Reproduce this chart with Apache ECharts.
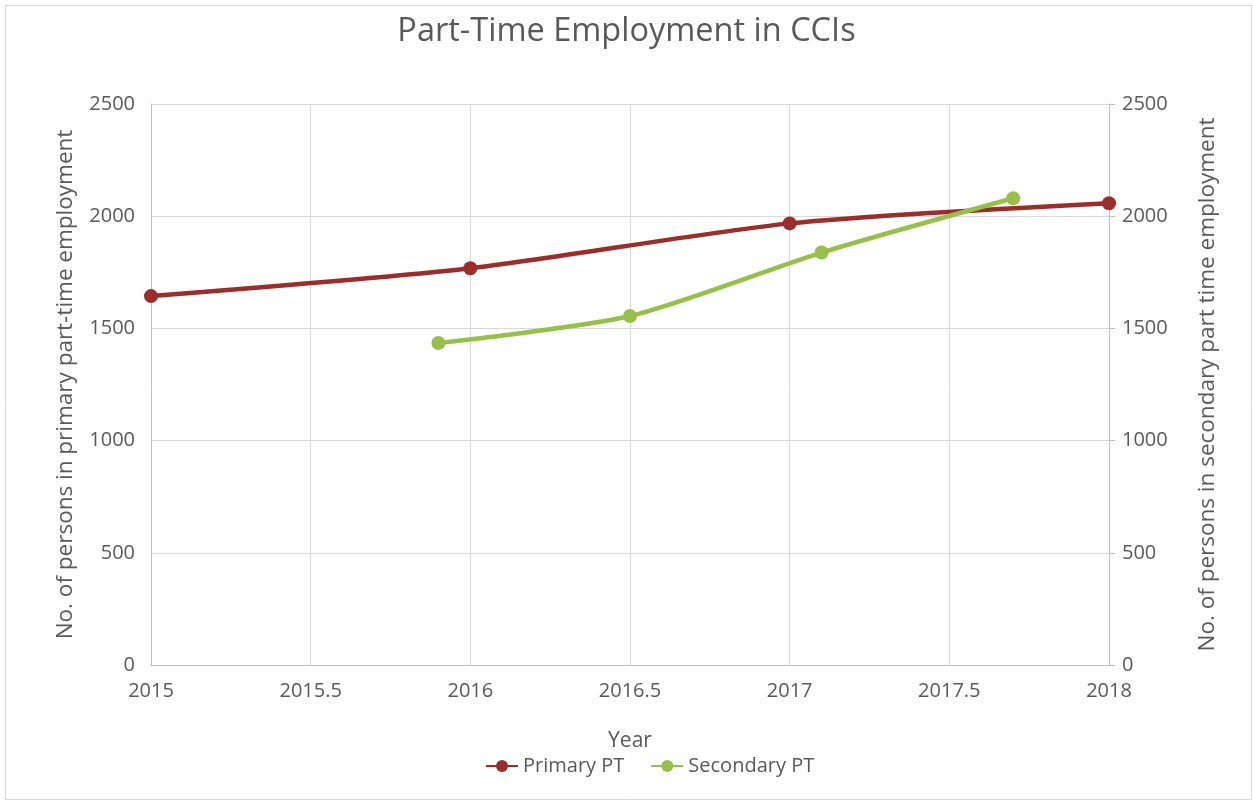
<!DOCTYPE html>
<html>
<head>
<meta charset="utf-8">
<title>Part-Time Employment in CCIs</title>
<script src="https://cdn.jsdelivr.net/npm/echarts@6/dist/echarts.min.js"></script>
<style>
  html, body { margin: 0; padding: 0; background: #ffffff; }
  #chart { width: 1253px; height: 801px; }
</style>
</head>
<body>
<div id="chart"></div>
<script>
// Primary part-time employment, by year
const primaryYears = [2015, 2016, 2017, 2018];
const primaryValues = [1644, 1768, 1968, 2058];

// Secondary part-time employment, plotted on the secondary axis
const secondaryYears = [2015.9, 2016.5, 2017.1, 2017.7];
const secondaryValues = [1435, 1555, 1838, 2080];

const yTicks = [0, 500, 1000, 1500, 2000, 2500];

const textColor = '#595959';
const gridColor = '#d9d9d9';
const font = '"Open Sans", sans-serif';

const chart = echarts.init(document.getElementById('chart'), null, { renderer: 'canvas' });

const plain = v => String(v);

const yAxisBase = {
  type: 'value',
  min: yTicks[0],
  max: yTicks[yTicks.length - 1],
  interval: yTicks[1] - yTicks[0],
  nameLocation: 'middle',
  nameRotate: 90,
  nameTextStyle: { color: textColor, fontSize: 22.5, fontFamily: font },
  axisLabel: { color: textColor, fontSize: 20, fontFamily: font, formatter: plain },
  axisLine: { show: true, lineStyle: { color: '#bfbfbf', width: 1 } }
};

chart.setOption({
  backgroundColor: '#ffffff',
  animation: false,
  title: {
    text: 'Part-Time Employment in CCIs',
    left: 'center',
    top: 10,
    textStyle: { color: textColor, fontSize: 32.5, fontWeight: 'normal', fontFamily: font }
  },
  legend: {
    bottom: 20,
    left: 480,
    itemWidth: 32,
    itemHeight: 15,
    itemGap: 26,
    textStyle: { color: textColor, fontSize: 20, fontFamily: font },
    data: ['Primary PT', 'Secondary PT']
  },
  grid: { left: 151, right: 144, top: 104, bottom: 136, containLabel: false },
  xAxis: {
    type: 'value',
    min: 2015,
    max: 2018,
    interval: 0.5,
    name: 'Year',
    nameLocation: 'middle',
    nameGap: 66,
    nameTextStyle: { color: textColor, fontSize: 21, fontFamily: font },
    axisLabel: { color: textColor, fontSize: 20, fontFamily: font, margin: 16, formatter: plain },
    axisLine: { show: true, onZero: false, lineStyle: { color: '#bfbfbf' } },
    axisTick: { show: false },
    splitLine: { show: true, lineStyle: { color: gridColor, width: 1 } }
  },
  yAxis: [
    Object.assign({}, yAxisBase, {
      position: 'left',
      name: 'No. of persons in primary part-time employment',
      nameGap: 74,
      axisTick: { show: false },
      axisLabel: Object.assign({}, yAxisBase.axisLabel, { margin: 16 }),
      splitLine: { show: true, lineStyle: { color: gridColor, width: 1 } }
    }),
    Object.assign({}, yAxisBase, {
      position: 'right',
      name: 'No. of persons in secondary part time employment',
      nameGap: 87,
      axisTick: { show: true, length: 6, lineStyle: { color: '#bfbfbf' } },
      axisLabel: Object.assign({}, yAxisBase.axisLabel, { margin: 13 }),
      splitLine: { show: false }
    })
  ],
  series: [
    {
      name: 'Primary PT',
      type: 'line',
      yAxisIndex: 0,
      smooth: 0.25,
      symbol: 'circle',
      symbolSize: 14,
      itemStyle: { color: '#9b2d2a' },
      lineStyle: { color: '#9b2d2a', width: 4.5 },
      data: primaryYears.map((x, i) => [x, primaryValues[i]])
    },
    {
      name: 'Secondary PT',
      type: 'line',
      yAxisIndex: 1,
      smooth: 0.25,
      symbol: 'circle',
      symbolSize: 14,
      itemStyle: { color: '#97bf4a' },
      lineStyle: { color: '#97bf4a', width: 4.5 },
      data: secondaryYears.map((x, i) => [x, secondaryValues[i]])
    }
  ],
  graphic: [
    {
      type: 'rect',
      left: 3,
      top: 3,
      shape: { width: 1246, height: 794 },
      style: { fill: 'none', stroke: '#d9d9d9', lineWidth: 1 },
      silent: true
    }
  ]
});
</script>
</body>
</html>
